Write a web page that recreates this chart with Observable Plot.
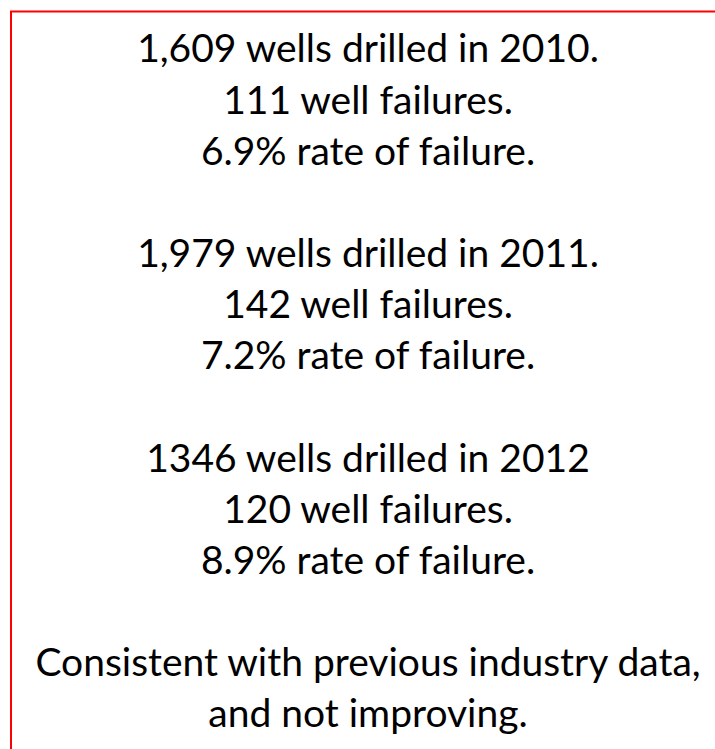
<!DOCTYPE html>
<html>
<head>
<meta charset="utf-8">
<script src="https://cdn.jsdelivr.net/npm/d3@7"></script>
<script src="https://cdn.jsdelivr.net/npm/@observablehq/plot@0.6"></script>
<style>
  html, body { margin: 0; padding: 0; background: #ffffff; overflow: hidden; }
  #chart { width: 715px; height: 749px; overflow: hidden; }
</style>
</head>
<body>
<div id="chart"></div>
<script>
// ---- data ----
const years = [2010, 2011, 2012];
const drilledLines = [
  "1,609 wells drilled in 2010.",
  "1,979 wells drilled in 2011.",
  "1346 wells drilled in 2012"
];
const wellFailures = [111, 142, 120];
const failureRates = ["6.9%", "7.2%", "8.9%"];
const conclusionLines = [
  "Consistent with previous industry data,",
  "and not improving."
];

// ---- build text rows: 3 lines per year, a blank line between blocks ----
const rows = [];
years.forEach((yr, i) => {
  const base = i * 4;
  rows.push({line: base,     text: drilledLines[i]});
  rows.push({line: base + 1, text: `${wellFailures[i]} well failures.`});
  rows.push({line: base + 2, text: `${failureRates[i]} rate of failure.`});
});
conclusionLines.forEach((t, j) => rows.push({line: years.length * 4 + j, text: t}));
const lastLine = d3.max(rows, d => d.line);

const chart = Plot.plot({
  width: 715,
  height: 749,
  marginLeft: 20,
  marginRight: 0,
  marginTop: 0,
  marginBottom: 0,
  style: {background: "#ffffff", overflow: "hidden"},
  y: {domain: [0, lastLine], range: [49.5, 714.5], axis: null},
  marks: [
    Plot.frame({stroke: "#ff0000", strokeWidth: 2, insetLeft: -9.5, insetTop: 11, insetRight: -30, insetBottom: -30}),
    Plot.text(rows, {
      y: "line",
      text: "text",
      frameAnchor: "middle",
      textAnchor: "middle",
      fontFamily: "Lato",
      fontSize: 39,
      fill: "#000000"
    })
  ]
});
document.getElementById("chart").appendChild(chart);
</script>
</body>
</html>
